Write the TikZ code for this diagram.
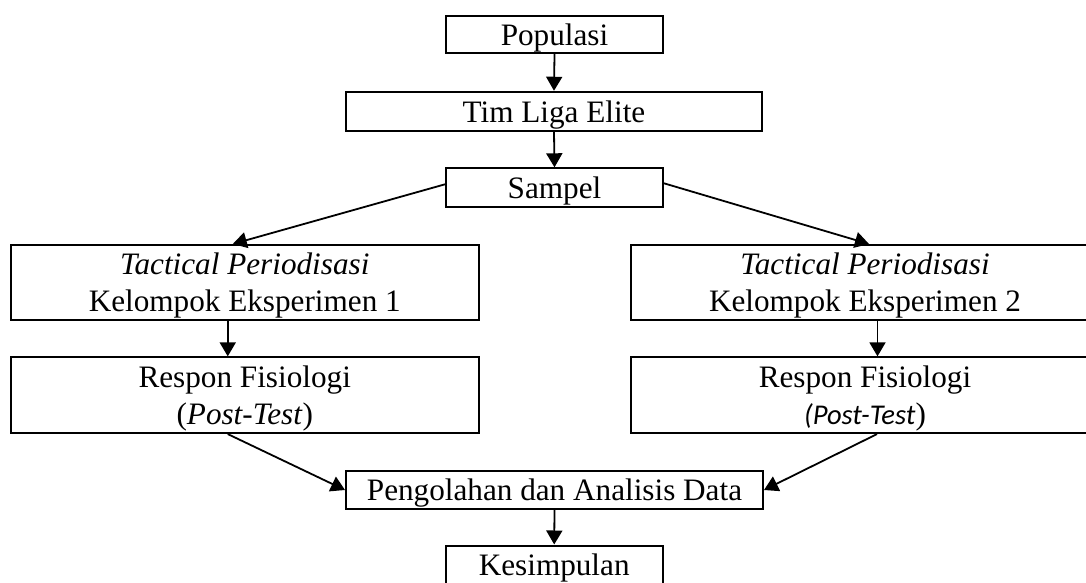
\documentclass[tikz,border=0pt]{standalone}
\usepackage{fontspec}
\setmainfont{Liberation Serif}
\newfontfamily\calib{Carlito}
\usetikzlibrary{arrows.meta}
\newcommand{\bstrut}{\rule[-6.5pt]{0pt}{34.5pt}}
\tikzset{
  box/.style={draw, line width=2pt, rectangle, inner sep=0pt, align=center,
    font=\fontsize{31.2}{37}\selectfont},
  arr/.style={line width=1.8pt, -{Triangle[length=14pt,width=16pt]}}
}
\begin{document}
\begin{tikzpicture}[x=1pt,y=-1pt]
\clip (0,0) rectangle (1086,582);
\fill[white] (0,0) rectangle (1086,582);
\node[box, minimum width=217pt, minimum height=37.3pt] (pop) at (554.5,34.4) {\bstrut Populasi};
\node[box, minimum width=416pt, minimum height=39.3pt] (tim) at (554,111.4) {\bstrut Tim Liga Elite};
\node[box, minimum width=217pt, minimum height=39pt] (sam) at (554.5,187.8) {\bstrut Sampel};
\node[box, minimum width=467.5pt, minimum height=75pt] (k1) at (244.75,282.5)
  {\bstrut\textit{Tactical Periodisasi}\\\bstrut Kelompok Eksperimen 1};
\node[box, minimum width=467.5pt, minimum height=75pt] (k2) at (865,282.5)
  {\bstrut\textit{Tactical Periodisasi}\\\bstrut Kelompok Eksperimen 2};
\node[box, minimum width=467.5pt, minimum height=75.7pt] (r1) at (244.75,395.2)
  {\bstrut Respon Fisiologi\\\bstrut(\textit{Post-Test})};
\node[box, minimum width=467.5pt, minimum height=75.7pt] (r2) at (865,395.2)
  {\bstrut Respon Fisiologi\\\bstrut{\calib\itshape\fontsize{28.6}{37}\selectfont (Post-Test})};
\node[box, minimum width=417pt, minimum height=38.3pt] (pen) at (554.5,490) {\bstrut Pengolahan dan Analisis Data};
\node[box, minimum width=217pt, minimum height=38pt] (kes) at (554.2,564.5) {\bstrut Kesimpulan};

\draw[arr] (pop.south) -- (tim.north);
\draw[arr] (tim.south) -- (sam.north);
\draw[arr] ([yshift=3.5pt]sam.west) -- ([xshift=-12pt]k1.north);
\draw[arr] ([yshift=4.5pt]sam.east) -- ([xshift=4pt]k2.north);
\draw[arr] ([xshift=-17pt]k1.south) -- ([xshift=-17pt]r1.north);
\draw[arr] ([xshift=12.5pt]k2.south) -- ([xshift=12.5pt]r2.north);
\draw[arr] ([xshift=-17pt]r1.south) -- (pen.west);
\draw[arr] ([xshift=12pt]r2.south) -- (pen.east);
\draw[arr] (pen.south) -- (kes.north);
\end{tikzpicture}
\end{document}
